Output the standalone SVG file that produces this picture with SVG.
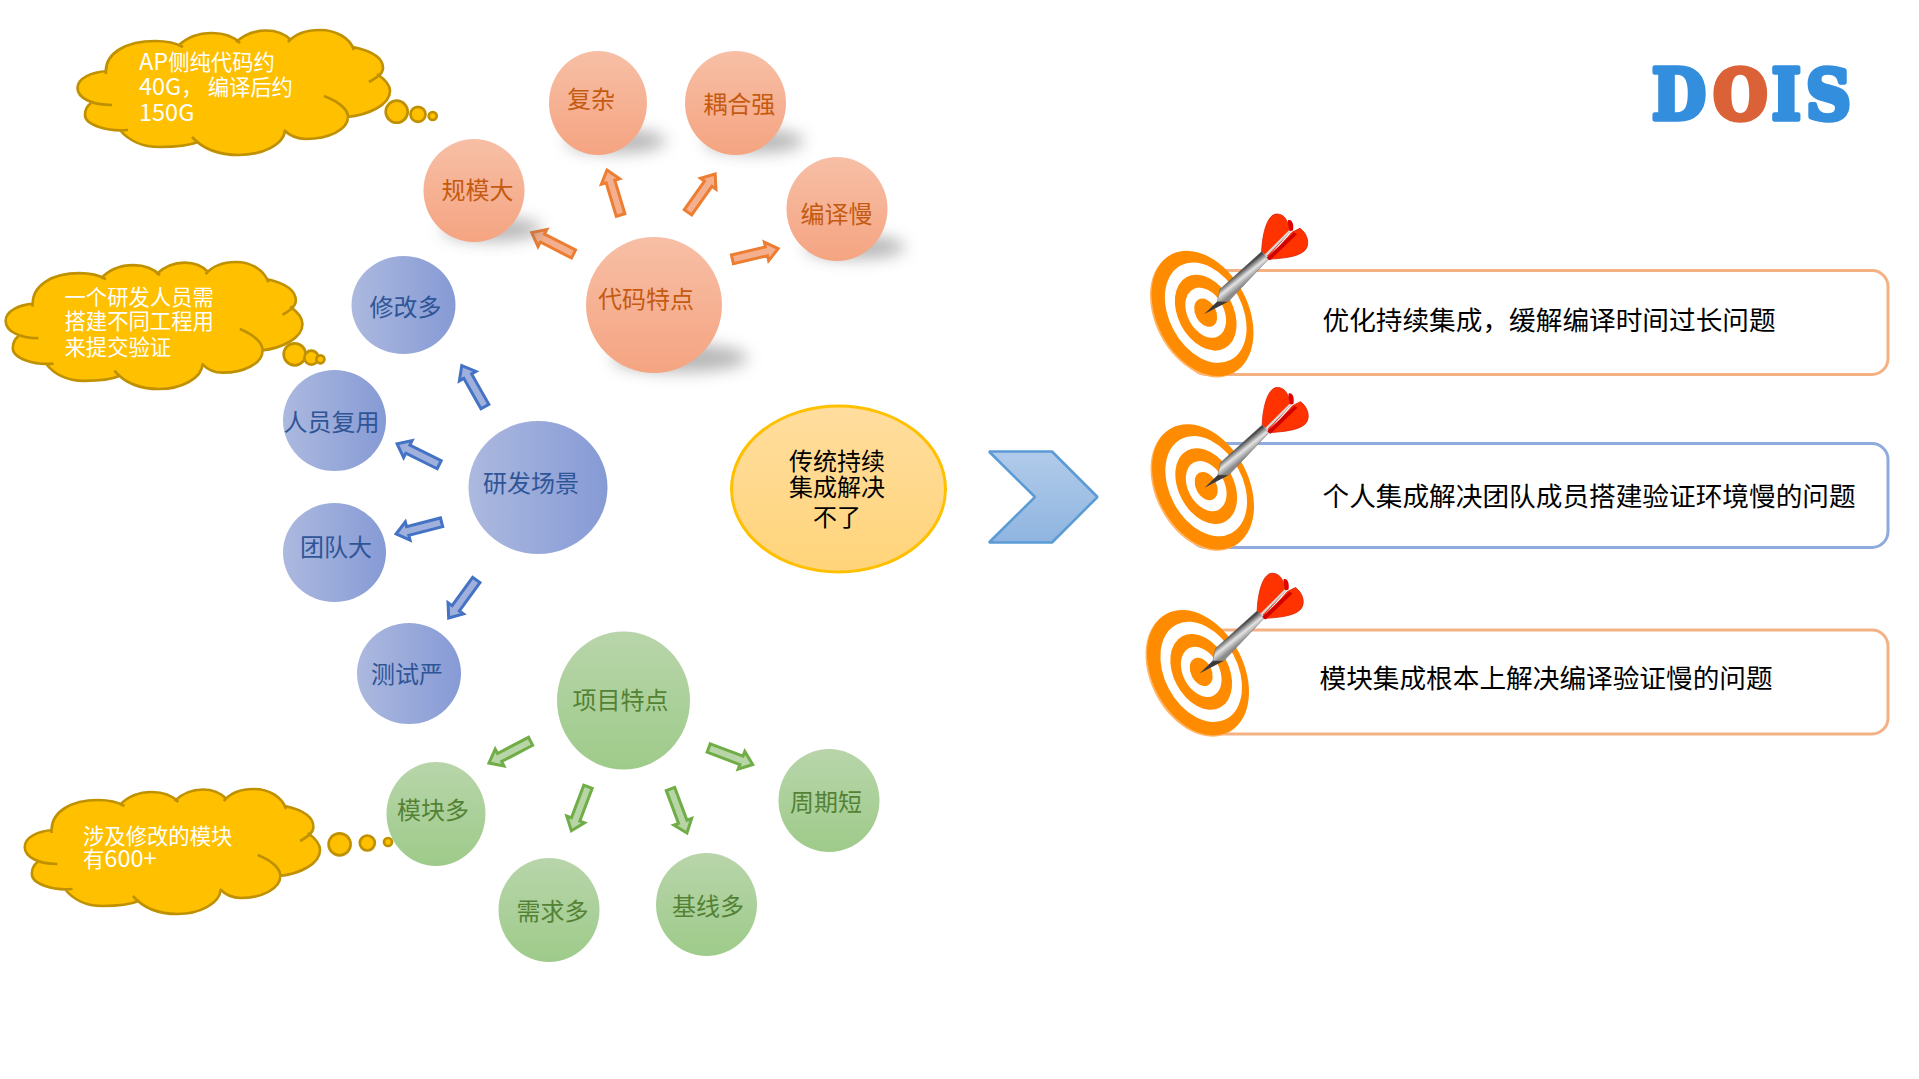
<svg xmlns="http://www.w3.org/2000/svg" width="1919" height="1079" viewBox="0 0 1919 1079">
<style>
text{font-family:"Noto Sans CJK SC","Liberation Sans",sans-serif}
.lab{font-size:24px}
.or{fill:#C55A11}.bl{fill:#2F5597}.gr{fill:#548235}
.cl{font-size:21.33px;fill:#fff}
.lat{font-size:23.5px}
.goal{font-size:26.67px;fill:#000}
.mid{font-size:24px;fill:#000;text-anchor:middle}
.c-or{fill:url(#gOr)}.c-bl{fill:url(#gBl)}.c-gr{fill:url(#gGr)}
.sh{fill:#6f6f6f;opacity:.5;filter:url(#blur)}
.a-or{fill:#F4B08E;stroke:#ED7D31;stroke-width:3}
.a-bl{fill:#9FB0DC;stroke:#4472C4;stroke-width:3}
.a-gr{fill:#B7D5A6;stroke:#70AD47;stroke-width:3}
.bub{fill:#FFC000;stroke:#BF9000;stroke-width:2.7}
.ring-o{fill:#FF8C00}.ring-w{fill:#fff}
.box{fill:#fff;stroke-width:3}
</style>
<defs>
<linearGradient id="gOr" x1="0" y1="0" x2="0" y2="1"><stop offset="0" stop-color="#F7BFA6"/><stop offset="1" stop-color="#F5A481"/></linearGradient>
<linearGradient id="gBl" x1="0" y1="0" x2="1" y2="0"><stop offset="0" stop-color="#ACB9DF"/><stop offset="1" stop-color="#869AD5"/></linearGradient>
<linearGradient id="gGr" x1="0" y1="0" x2="0" y2="1"><stop offset="0" stop-color="#B8D5AA"/><stop offset="1" stop-color="#9ECB8A"/></linearGradient>
<linearGradient id="gEl" x1="0" y1="0" x2="0" y2="1"><stop offset="0" stop-color="#FFDD9E"/><stop offset="1" stop-color="#FFD47A"/></linearGradient>
<linearGradient id="gCh" x1="0" y1="0" x2="0" y2="1"><stop offset="0" stop-color="#B1CBEA"/><stop offset="1" stop-color="#8FB5E0"/></linearGradient>
<linearGradient id="gBar" gradientUnits="userSpaceOnUse" x1="37" y1="-44" x2="45" y2="-34"><stop offset="0" stop-color="#444"/><stop offset=".5" stop-color="#e4e4e4"/><stop offset="1" stop-color="#8a8a8a"/></linearGradient>
<filter id="blur" x="-40%" y="-100%" width="180%" height="300%"><feGaussianBlur stdDeviation="8"/></filter>
<path id="arrow" d="M0,-4.5H35V-9.5L47,0L35,9.5V4.5H0Z"/>
<g id="cloud">
<path fill="#FFC000" d="M106,74C104,52 128,41 155,41C168,41 176,43 183,47L178,46C188,36 200,33 212,33C224,33 234,37 240,43L236,42C246,33 256,30.5 266,30.5C276,30.5 285,34 291,40L288,42C296,33 308,30 320,30C336,30 350,38 354,50L353,47C372,51 383,58 383,68C383,74 376,78 369,82L377,74C386,80 390,85 390,91C390,105 368,115 347,117L348,117C348,130 328,139 306,139C298,139 290,136 284,130L285,130C284,145 262,155 239,155C218,155 202,148 192,137L198,142C188,146 174,147 160,147C142,147 128,140 120,130L128,130C108,132 85,125 85,115C85,110 87,106 91,103L112,105C92,105 77.5,98 77.5,88C77.5,78 92,72 107,71Z"/>
<path fill="none" stroke="#BF9000" stroke-width="2.7" d="M106,74C104,52 128,41 155,41C168,41 176,43 183,47M178,46C188,36 200,33 212,33C224,33 234,37 240,43M236,42C246,33 256,30.5 266,30.5C276,30.5 285,34 291,40M288,42C296,33 308,30 320,30C336,30 350,38 354,50M353,47C372,51 383,58 383,68C383,74 376,78 369,82M377,74C386,80 390,85 390,91C390,105 368,115 347,117M324,96C340,102 348,110 348,117C348,130 328,139 306,139C298,139 290,136 284,130M285,130C284,145 262,155 239,155C218,155 202,148 192,137M198,142C188,146 174,147 160,147C142,147 128,140 120,130M128,130C108,132 85,125 85,115C85,110 87,106 91,103M112,105C92,105 77.5,98 77.5,88C77.5,78 92,72 107,71"/>
</g>
<g id="target">
<ellipse cx="-3" cy="0.5" rx="45.6" ry="66.7" transform="rotate(-28 -3 0.5)" fill="#FFB468"/>
<ellipse cx="-1.5" cy="-0.8" rx="45.6" ry="66.7" transform="rotate(-28 -1.5 -0.8)" class="ring-o"/>
<ellipse cx="1.7" cy="-1.6" rx="36.5" ry="53.4" transform="rotate(-28 1.7 -1.6)" class="ring-w"/>
<ellipse cx="1.7" cy="-1.6" rx="27.6" ry="40.4" transform="rotate(-28 1.7 -1.6)" class="ring-o"/>
<ellipse cx="1.7" cy="-1.6" rx="18.2" ry="26.7" transform="rotate(-28 1.7 -1.6)" class="ring-w"/>
<ellipse cx="1.7" cy="-1.6" rx="10.3" ry="15" transform="rotate(-28 1.7 -1.6)" class="ring-o"/>
<path fill="#E00000" d="M84,-94C88,-96 90,-90 89,-84L84,-82Z"/>
<path fill="#FF3300" stroke="#D81E00" stroke-width=".8" d="M57.7,-62.7C58,-76 62,-100 72.7,-100.3C81,-100.5 85,-92 85.5,-82L64,-58Z"/>
<path fill="#FF3300" stroke="#D81E00" stroke-width=".8" d="M64,-55C78,-56 94,-57 101,-64C106,-70 104,-80 96,-86L88,-82Z"/>
<path fill="#D40000" d="M62,-56L90,-82L93,-80L66,-54Z"/>
<path fill="#d8d8d8" d="M61,-60L85,-84L87,-83L62.5,-58Z"/>
<path fill="#3a3a3a" d="M0,0L13.5,-13L24,-12.5Z"/>
<path fill="url(#gBar)" stroke="#666" stroke-width=".5" d="M13.3,-12.7L16,-25L57.7,-62.7L64.3,-55L24.3,-12.7Z"/>
</g>
</defs>
<rect width="1919" height="1079" fill="#fff"/>

<g id="connectors">
<use href="#arrow" class="a-or" transform="translate(620.6,215) rotate(-106.8)"/>
<use href="#arrow" class="a-or" transform="translate(688,212.3) rotate(-54.7)"/>
<use href="#arrow" class="a-or" transform="translate(732.4,259.3) rotate(-13.1)"/>
<use href="#arrow" class="a-or" transform="translate(573.5,254) rotate(-152.8)"/>
<use href="#arrow" class="a-bl" transform="translate(484.9,406.6) rotate(-119.5)"/>
<use href="#arrow" class="a-bl" transform="translate(439.2,464.7) rotate(-153.6)"/>
<use href="#arrow" class="a-bl" transform="translate(441.6,522.3) rotate(165.6)"/>
<use href="#arrow" class="a-bl" transform="translate(476.3,580) rotate(126)"/>
<use href="#arrow" class="a-gr" transform="translate(708.7,748) rotate(20.6)"/>
<use href="#arrow" class="a-gr" transform="translate(670.5,789) rotate(69.5)"/>
<use href="#arrow" class="a-gr" transform="translate(588,786.7) rotate(110.7)"/>
<use href="#arrow" class="a-gr" transform="translate(530.6,741.3) rotate(152.4)"/>
<path id="chevron" fill="url(#gCh)" stroke="#5B9BD5" stroke-width="2.5" stroke-linejoin="bevel" d="M989,451.5H1052L1097.5,497L1052,542.5H989L1035,497Z"/>
</g>

<g id="cloud-code">
<use href="#cloud"/>
<circle class="bub" cx="396.7" cy="111.7" r="11"/><circle class="bub" cx="418" cy="114.3" r="7.5"/><circle class="bub" cx="432.7" cy="116" r="4"/>
<text class="cl" x="139" y="70"><tspan class="lat">AP</tspan>侧纯代码约</text>
<text class="cl" x="139" y="95"><tspan class="lat">40G</tspan>，<tspan dx="5">编译后约</tspan></text>
<text class="cl" x="139" y="120.5"><tspan class="lat">150G</tspan></text>
</g>
<g id="cloud-dev">
<use href="#cloud" transform="translate(-68,262) scale(.95,1.016) translate(0,-30)"/>
<circle class="bub" cx="294.7" cy="354.3" r="11"/><circle class="bub" cx="311.4" cy="357.7" r="7"/><circle class="bub" cx="320.4" cy="359.3" r="4"/>
<text class="cl" x="64.5" y="305">一个研发人员需</text>
<text class="cl" x="64.5" y="329">搭建不同工程用</text>
<text class="cl" x="64.5" y="355">来提交验证</text>
</g>
<g id="cloud-module">
<use href="#cloud" transform="translate(-48.5,789) scale(.945,1) translate(0,-30)"/>
<text class="cl" x="83" y="844">涉及修改的模块</text>
<text class="cl" x="83" y="867">有<tspan class="lat">600+</tspan></text>
</g>

<g id="n-complex"><ellipse class="sh" cx="616" cy="141" rx="50" ry="12"/><ellipse class="c-or" cx="598" cy="103" rx="49" ry="52"/><text class="lab or" x="567" y="108">复杂</text></g>
<g id="n-coupling"><ellipse class="sh" cx="754" cy="141" rx="50" ry="12"/><ellipse class="c-or" cx="735.5" cy="103" rx="50.5" ry="52"/><text class="lab or" x="703.2" y="113">耦合强</text></g>
<g id="n-compile"><ellipse class="sh" cx="855" cy="247" rx="50" ry="12"/><ellipse class="c-or" cx="837" cy="209" rx="50.5" ry="52"/><text class="lab or" x="800.5" y="222.5">编译慢</text></g>
<g id="n-scale"><ellipse class="sh" cx="492" cy="229" rx="50" ry="12"/><ellipse class="c-or" cx="474" cy="190.5" rx="50.5" ry="51.5"/><text class="lab or" x="441.5" y="199">规模大</text></g>
<g id="n-code"><ellipse class="sh" cx="680" cy="358" rx="68" ry="14"/><ellipse class="c-or" cx="654" cy="305" rx="68" ry="68"/><text class="lab or" x="598" y="308">代码特点</text></g>

<g id="n-modify"><ellipse class="c-bl" cx="403.5" cy="305" rx="52" ry="49"/><text class="lab bl" x="369.5" y="315.5">修改多</text></g>
<g id="n-reuse"><ellipse class="c-bl" cx="334.5" cy="420.5" rx="51.5" ry="50.5"/><text class="lab bl" x="283.5" y="431">人员复用</text></g>
<g id="n-team"><ellipse class="c-bl" cx="334.5" cy="552.5" rx="51.5" ry="49.5"/><text class="lab bl" x="300" y="555.5">团队大</text></g>
<g id="n-dev"><ellipse class="c-bl" cx="538" cy="487.5" rx="69.5" ry="66.5"/><text class="lab bl" x="483" y="492">研发场景</text></g>
<g id="n-test"><ellipse class="c-bl" cx="409" cy="673.5" rx="52" ry="50.5"/><text class="lab bl" x="371" y="682.5">测试严</text></g>

<g id="n-project"><ellipse class="c-gr" cx="623.5" cy="700.5" rx="66.5" ry="69"/><text class="lab gr" x="572.5" y="708.5">项目特点</text></g>
<g id="n-cycle"><ellipse class="c-gr" cx="829" cy="800.5" rx="50.5" ry="51.5"/><text class="lab gr" x="790" y="811">周期短</text></g>
<g id="n-baseline"><ellipse class="c-gr" cx="706.5" cy="904.5" rx="50.5" ry="51.5"/><text class="lab gr" x="672" y="915">基线多</text></g>
<g id="n-demand"><ellipse class="c-gr" cx="549" cy="910" rx="50.5" ry="52"/><text class="lab gr" x="516.5" y="920">需求多</text></g>
<g id="n-module"><ellipse class="c-gr" cx="436" cy="814" rx="49.5" ry="52"/><text class="lab gr" x="397" y="819">模块多</text></g>
<g id="bubbles-module"><circle class="bub" cx="339.6" cy="844.3" r="11"/><circle class="bub" cx="367.3" cy="843" r="7.5"/><circle class="bub" cx="388" cy="842" r="4"/></g>

<g id="n-center">
<ellipse cx="838.5" cy="489" rx="107" ry="83" fill="url(#gEl)" stroke="#FFC000" stroke-width="3"/>
<text class="mid" x="837" y="470">传统持续</text>
<text class="mid" x="837" y="495.5">集成解决</text>
<text class="mid" x="837" y="526">不了</text>
</g>

<g id="goal-1">
<rect class="box" x="1190" y="270.5" width="698" height="104" rx="16" stroke="#F4B183"/>
<use href="#target" transform="translate(1204,314.3)"/>
<text class="goal" x="1322.5" y="330">优化持续集成，缓解编译时间过长问题</text>
</g>
<g id="goal-2">
<rect class="box" x="1190" y="443.5" width="698" height="104" rx="16" stroke="#8FAADC"/>
<use href="#target" transform="translate(1204.5,487.7)"/>
<text class="goal" x="1322.5" y="506">个人集成解决团队成员搭建验证环境慢的问题</text>
</g>
<g id="goal-3">
<rect class="box" x="1190" y="630" width="698" height="104" rx="16" stroke="#F4B183"/>
<use href="#target" transform="translate(1199.5,673.5)"/>
<text class="goal" x="1319.5" y="688">模块集成根本上解决编译验证慢的问题</text>
</g>

<g id="logo">
<text transform="translate(1652,118.5) scale(.9,1)" font-size="69" font-weight="700" stroke-width="5.5" stroke-linejoin="round" style="font-family:'DejaVu Serif',serif"><tspan x="0" fill="#338FDD" stroke="#338FDD">D</tspan><tspan x="68" fill="#DB6137" stroke="#DB6137">O</tspan><tspan x="133" fill="#338FDD" stroke="#338FDD">I</tspan><tspan x="171" fill="#338FDD" stroke="#338FDD">S</tspan></text>
</g>
</svg>
